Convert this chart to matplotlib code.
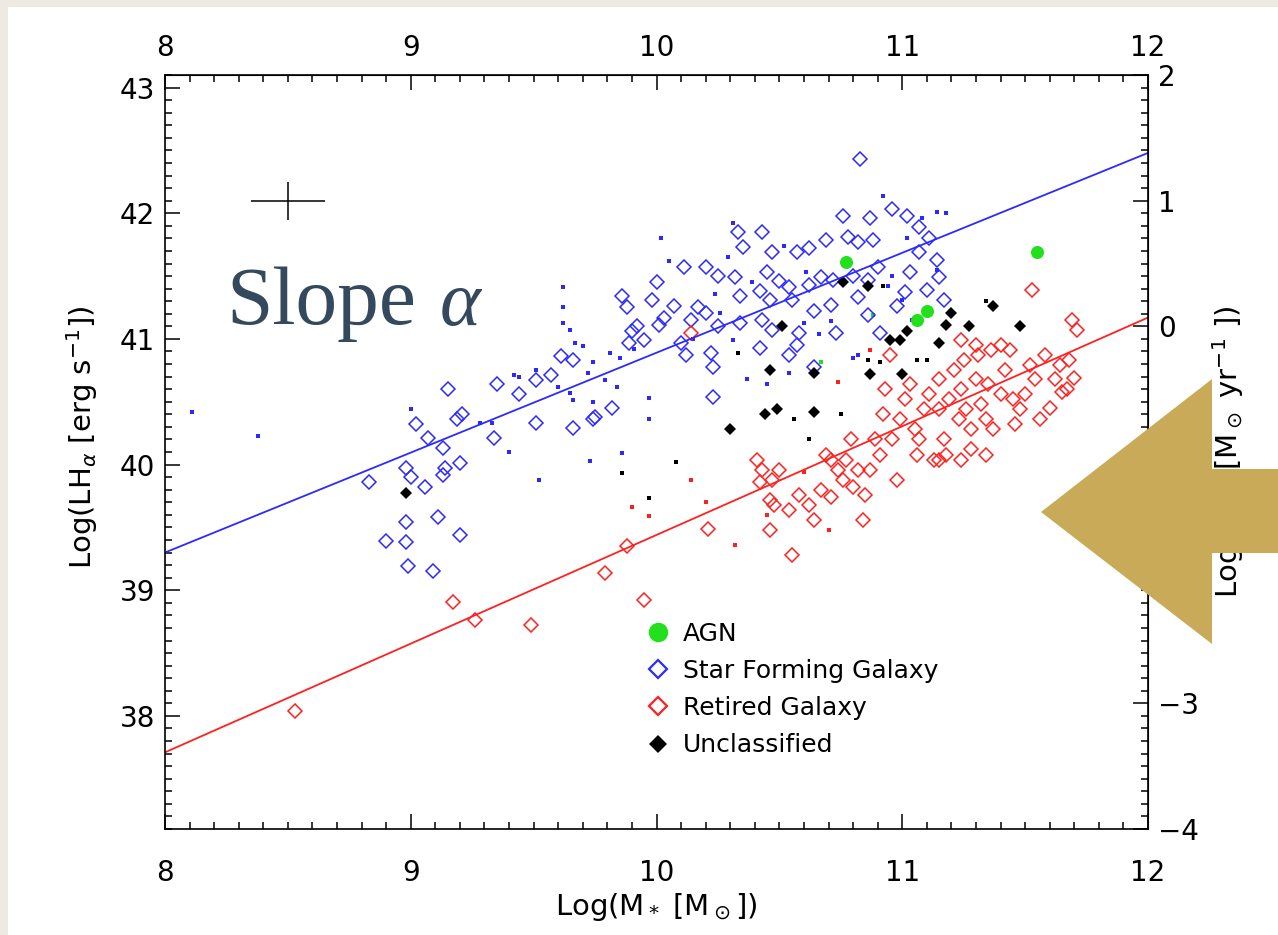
import numpy as np
import matplotlib
matplotlib.use('Agg')
import matplotlib.pyplot as plt
from matplotlib.patches import Rectangle, Polygon
from matplotlib.lines import Line2D
from matplotlib.ticker import MultipleLocator

# ---------------- data ----------------
sf_x = [8.83, 8.90, 8.98, 8.98, 8.98, 9.00, 8.99, 9.02, 9.07, 9.06, 9.09, 9.11, 9.13, 9.13, 9.14,
        9.15, 9.19, 9.20, 9.20, 9.21, 9.34, 9.35, 9.44, 9.51, 9.51, 9.57, 9.61, 9.66, 9.66, 9.74,
        9.75, 9.82, 9.86, 9.88, 9.90, 9.92, 9.89, 9.95, 10.00, 9.98, 10.03, 10.07, 10.11, 10.10,
        10.12, 10.14, 10.17, 10.23, 10.01,
        10.83, 10.96, 11.02, 11.07, 10.87, 10.76, 10.33, 10.43, 11.11, 10.88, 10.82, 10.69, 10.62,
        10.57, 10.47, 10.35, 11.14, 11.07, 10.78, 10.20, 10.25, 10.32, 10.45, 10.50, 10.54, 10.62,
        10.67, 10.72, 10.80, 10.86, 10.90, 11.03, 11.15, 10.34, 10.42, 10.46, 10.55, 10.64, 10.71,
        10.82, 10.86, 10.91, 10.98, 11.01, 11.10, 11.17, 10.20, 10.25, 10.34, 10.43, 10.47, 10.57,
        10.42, 10.54, 10.73, 10.58, 10.22, 10.23, 10.64]
sf_y = [39.86, 39.39, 39.38, 39.54, 39.97, 39.90, 39.19, 40.32, 40.21, 39.82, 39.15, 39.58, 40.13, 39.92, 39.97,
        40.60, 40.36, 40.01, 39.44, 40.40, 40.21, 40.64, 40.56, 40.67, 40.33, 40.71, 40.86, 40.83, 40.29, 40.36,
        40.38, 40.45, 41.34, 41.25, 41.06, 41.10, 40.97, 40.99, 41.45, 41.31, 41.17, 41.26, 41.57, 40.97,
        40.87, 41.15, 41.25, 40.54, 41.11,
        42.43, 42.03, 41.98, 41.89, 41.96, 41.98, 41.85, 41.85, 41.80, 41.79, 41.77, 41.79, 41.72,
        41.69, 41.69, 41.73, 41.63, 41.69, 41.81, 41.57, 41.50, 41.49, 41.53, 41.46, 41.41, 41.43,
        41.49, 41.47, 41.50, 41.47, 41.57, 41.53, 41.49, 41.34, 41.38, 41.31, 41.31, 41.22, 41.27,
        41.33, 41.19, 41.05, 41.26, 41.37, 41.39, 41.31, 41.21, 41.10, 41.13, 41.15, 41.07, 40.95,
        40.93, 40.87, 41.05, 41.05, 40.89, 40.78, 40.78]

rg_x = [8.53, 9.17, 9.26, 9.49, 9.79, 9.88, 9.95, 10.14, 10.21, 10.41, 10.42, 10.43, 10.46, 10.47,
        10.48, 10.50, 10.54, 10.55, 10.58, 10.62, 10.64, 10.67, 10.69, 10.71, 10.71, 10.74, 10.76,
        10.77, 10.79, 10.80, 10.82, 10.84, 10.85, 10.87, 10.89, 10.91, 10.92, 10.93, 10.95, 10.96,
        10.98, 10.99, 11.01, 11.03, 11.05, 11.06, 11.07, 11.09, 11.11, 11.13, 11.15, 11.15, 11.17,
        11.18, 11.19, 11.21, 11.23, 11.24, 11.25, 11.26, 11.28, 11.28, 11.30, 11.31, 11.32, 11.34,
        11.35, 11.36, 11.37, 11.40, 11.42, 11.44, 11.45, 11.46, 11.48, 11.50, 11.52, 11.53, 11.54,
        11.56, 11.58, 11.60, 11.62, 11.64, 11.65, 11.68, 11.69, 11.71, 11.67, 11.70, 11.24, 11.15,
        11.34, 11.24, 11.30, 11.40, 10.46]
rg_y = [38.04, 38.91, 38.76, 38.72, 39.14, 39.35, 38.92, 41.05, 39.49, 40.04, 39.86, 39.96, 39.72, 39.88,
        39.68, 39.96, 39.64, 39.28, 39.76, 39.68, 39.56, 39.80, 40.08, 40.04, 39.74, 39.96, 39.88,
        40.04, 40.20, 39.82, 39.96, 39.56, 39.76, 39.96, 40.20, 40.08, 40.40, 40.60, 40.87, 40.20,
        39.88, 40.36, 40.52, 40.64, 40.28, 40.08, 40.20, 40.44, 40.56, 40.04, 40.44, 40.68, 40.20,
        40.08, 40.52, 40.75, 40.36, 40.60, 40.83, 40.44, 40.12, 40.28, 40.68, 40.87, 40.48, 40.36,
        40.64, 40.91, 40.28, 40.56, 40.75, 40.91, 40.52, 40.32, 40.44, 40.56, 40.79, 41.39, 40.68,
        40.36, 40.87, 40.45, 40.68, 40.79, 40.58, 40.83, 41.15, 41.07, 40.60, 40.69, 40.04, 40.04,
        40.08, 40.99, 40.95, 40.95, 39.48]

un_x = [8.98, 10.30, 10.44, 10.49, 10.46, 10.51, 10.64, 10.64, 10.76, 10.86, 10.87, 10.95, 10.99,
        11.02, 11.00, 11.15, 11.18, 11.20, 11.27, 11.37, 11.48]
un_y = [39.77, 40.28, 40.40, 40.44, 40.75, 41.10, 40.73, 40.42, 41.45, 41.42, 40.72, 40.99, 40.99,
        41.06, 40.72, 40.97, 41.11, 41.21, 41.10, 41.26, 41.10]

agn_x = [10.77, 11.06, 11.10, 11.55]
agn_y = [41.61, 41.15, 41.22, 41.69]

# small dots (galaxies with less reliable classification)
dot_sf_x = [8.11, 8.38, 9.62, 9.62, 9.62, 9.65, 9.67, 9.70, 9.74, 9.81, 9.85, 9.91, 9.72, 9.79, 9.84,
            9.60, 9.65, 9.74, 9.66, 9.28, 9.33, 9.40, 9.52, 9.73, 9.86, 9.00, 9.42, 9.44, 9.51, 9.97,
            9.97, 10.02, 10.92, 11.14, 10.31, 10.29, 10.24, 10.39, 10.61, 10.52, 11.08, 11.02, 10.60,
            10.66, 10.82, 10.80, 10.71, 10.96, 11.00, 11.14, 11.04, 10.37, 10.45, 10.54, 10.94, 10.31,
            10.26, 11.18, 10.05, 10.15]
dot_sf_y = [40.42, 40.23, 41.41, 41.25, 41.13, 41.07, 40.97, 40.94, 40.82, 40.89, 40.85, 40.92, 40.73, 40.67, 40.62,
            40.62, 40.57, 40.50, 40.51, 40.33, 40.33, 40.10, 39.88, 40.03, 40.09, 40.44, 40.71, 40.70, 40.75, 40.53,
            40.36, 41.80, 42.14, 42.01, 41.92, 41.65, 41.36, 41.45, 41.53, 41.74, 41.96, 41.80, 41.13,
            41.04, 40.87, 40.85, 41.14, 41.50, 41.31, 41.55, 41.15, 40.68, 40.64, 40.73, 41.42, 40.99,
            41.21, 42.00, 41.62, 41.00]
dot_un_x = [9.86, 9.97, 10.08, 10.33, 10.86, 10.91, 11.06, 11.10, 11.34, 10.92, 10.56, 10.62, 10.75]
dot_un_y = [39.93, 39.73, 40.02, 40.89, 40.83, 40.82, 40.83, 40.83, 41.30, 41.42, 40.36, 40.20, 40.40]
dot_rg_x = [9.90, 9.97, 10.14, 10.20, 10.32, 10.45, 10.60, 10.70, 10.74, 10.87]
dot_rg_y = [39.66, 39.59, 39.88, 39.70, 39.36, 39.60, 39.94, 39.48, 40.66, 40.91]
dot_agn_x = [10.67, 10.88]
dot_agn_y = [40.82, 41.19]

# fitted relations (end points)
fit_x = [8.0, 12.0]
fit_sf_y = [39.30, 42.48]
fit_rg_y = [37.71, 41.17]

# typical error bar
err_x, err_y, err_dx, err_dy = 8.5, 42.1, 0.15, 0.15

legend_labels = ['AGN', 'Star Forming Galaxy', 'Retired Galaxy', 'Unclassified']
x_ticks = [8, 9, 10, 11, 12]
y_ticks = [38, 39, 40, 41, 42, 43]
sfr_ticks = [-4, -3, -2, -1, 0, 1, 2]
sfr_offset = 41.1

BLUE = '#2a2aff'
RED = '#ff2020'
GREEN = '#22e01c'

# ---------------- figure ----------------
W, H = 1278, 935
fig = plt.figure(figsize=(W / 100, H / 100), dpi=100)
fig.patch.set_facecolor('#eeeae2')
fig.patches.append(Rectangle((8 / W, 0), 1, 1 - 7 / H, transform=fig.transFigure,
                             facecolor='white', edgecolor='none', zorder=-5))

ax = fig.add_axes([165 / W, (H - 829) / H, (1148 - 165) / W, (829 - 75) / H])
ax.set_facecolor('white')
ax.set_xlim(8, 12)
ax.set_ylim(37.1, 43.1)

ms_small = 2.6
ax.plot(dot_sf_x, dot_sf_y, 's', ms=ms_small, color=BLUE, mew=0, ls='none')
ax.plot(dot_un_x, dot_un_y, 's', ms=ms_small, color='black', mew=0, ls='none')
ax.plot(dot_rg_x, dot_rg_y, 's', ms=ms_small, color=RED, mew=0, ls='none')
ax.plot(dot_agn_x, dot_agn_y, 's', ms=ms_small + 0.8, color=GREEN, mew=0, ls='none')

ax.plot(sf_x, sf_y, 'D', ms=6.8, mfc='none', mec=BLUE, mew=1.1, ls='none')
ax.plot(rg_x, rg_y, 'D', ms=6.8, mfc='none', mec=RED, mew=1.1, ls='none')
ax.plot(un_x, un_y, 'D', ms=6.3, color='black', mew=0, ls='none')
ax.plot(agn_x, agn_y, 'o', ms=9.4, color=GREEN, mew=0, ls='none')

ax.plot(fit_x, fit_sf_y, color=BLUE, lw=1.3)
ax.plot(fit_x, fit_rg_y, color=RED, lw=1.3)

ax.errorbar([err_x], [err_y], xerr=[err_dx], yerr=[err_dy], fmt='none', ecolor='black', elinewidth=1.1)

# ticks and axes
for sp in ax.spines.values():
    sp.set_linewidth(1.2)
ax.set_xticks(x_ticks)
ax.set_yticks(y_ticks)
ax.xaxis.set_minor_locator(MultipleLocator(0.1))
ax.yaxis.set_minor_locator(MultipleLocator(0.1))
ax.tick_params(which='both', direction='in', top=False, right=False, width=1.1, labelsize=20)
ax.tick_params(which='major', length=11)
ax.tick_params(which='minor', length=5)
ax.tick_params(axis='x', pad=21.5)
ax.tick_params(axis='y', pad=7)

secx = ax.secondary_xaxis('top')
secx.set_xticks(x_ticks)
secx.xaxis.set_minor_locator(MultipleLocator(0.1))
secx.tick_params(which='both', direction='in', width=1.1, labelsize=20, pad=9)
secx.tick_params(which='major', length=11)
secx.tick_params(which='minor', length=5)

secy = ax.secondary_yaxis('right', functions=(lambda v: v - sfr_offset, lambda s: s + sfr_offset))
secy.set_yticks(sfr_ticks)
secy.yaxis.set_minor_locator(MultipleLocator(0.1))
secy.tick_params(which='both', direction='in', width=1.1, labelsize=20, pad=7)
secy.tick_params(which='major', length=11)
secy.tick_params(which='minor', length=5)
secy.set_ylabel('Log(SFR [M$_\\odot$ yr$^{-1}$ ])', fontsize=21, labelpad=8)

ax.set_xlabel('Log(M$_*$ [M$_\\odot$])', fontsize=21, labelpad=3)
ax.set_ylabel('Log(LH$_\\alpha$ [erg s$^{-1}$])', fontsize=21)
ax.yaxis.set_label_coords(-0.066, 0.52)

handles = [
    Line2D([], [], marker='o', ls='none', color=GREEN, ms=14, mew=0),
    Line2D([], [], marker='D', ls='none', mfc='none', mec=BLUE, ms=9.5, mew=1.6),
    Line2D([], [], marker='D', ls='none', mfc='none', mec=RED, ms=9.5, mew=1.6),
    Line2D([], [], marker='D', ls='none', color='black', ms=9.0, mew=0),
]
ax.legend(handles, legend_labels, loc='upper left', bbox_to_anchor=(0.4898, 0.275),
          frameon=False, fontsize=18, borderpad=0, borderaxespad=0,
          handlelength=0.9, handletextpad=0.55, labelspacing=0.53)

# slide annotation "Slope α"
t = fig.text(226 / W, 1 - 324 / H, 'Slope', fontsize=60, family='Liberation Serif',
             color='#34495e', va='baseline', ha='left')
fig.canvas.draw()
ax.annotate('α', xy=(1, 0), xycoords=t, xytext=(17, 0), textcoords='offset points',
            fontsize=56, family='Liberation Serif', style='italic', color='#34495e',
            va='bottom', ha='left', annotation_clip=False)

# big golden arrow on the right
arrow_px = [(1041, 512), (1212, 379), (1212, 469), (1278, 469), (1278, 553), (1212, 553), (1212, 644)]
fig.patches.append(Polygon([(px / W, 1 - py / H) for px, py in arrow_px], closed=True,
                           transform=fig.transFigure, facecolor='#c9aa58', edgecolor='none', zorder=10))

fig.savefig('out.png', dpi=100, facecolor=fig.get_facecolor())
